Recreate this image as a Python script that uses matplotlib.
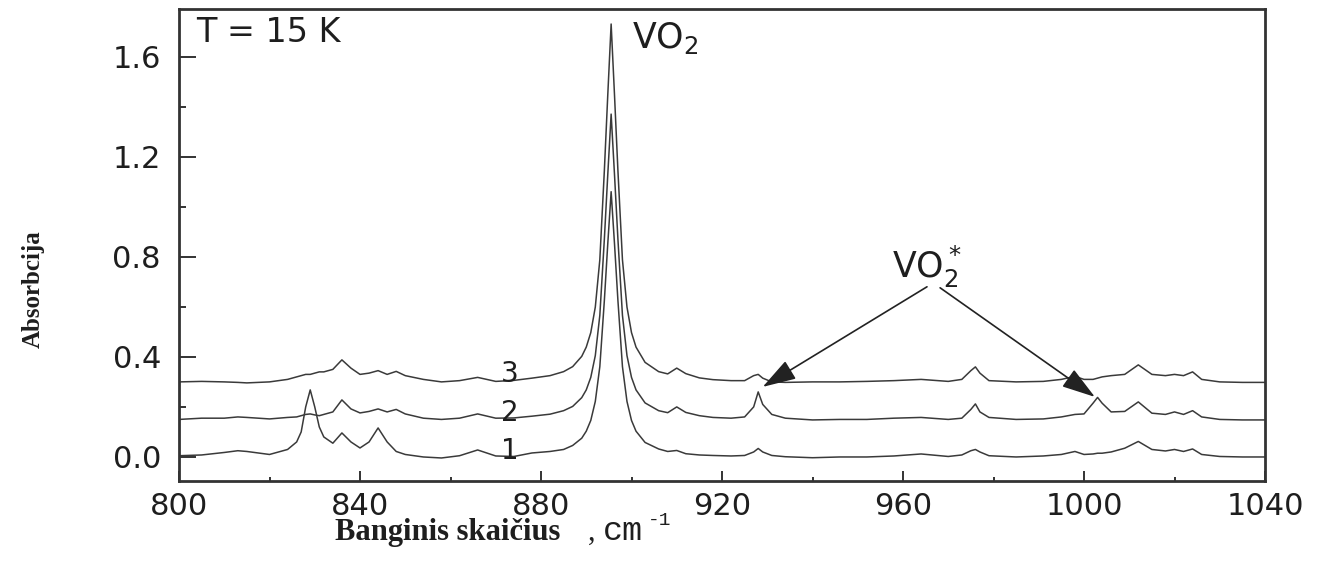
import matplotlib
matplotlib.use("Agg")
import matplotlib.pyplot as plt
from matplotlib.ticker import MultipleLocator, FormatStrFormatter

# ---------------- data ----------------
wavenumber = [
    800, 805, 810, 813, 815, 820, 824, 826, 827, 828,
    829, 830, 831, 832, 834, 836, 838, 840, 842, 844,
    846, 848, 850, 854, 858, 862, 866, 870, 874, 878,
    882, 885, 887, 889, 890, 891, 892, 893, 894, 894.75,
    895.5, 896.25, 897, 898, 899, 900, 901, 903, 906, 908,
    910, 912, 915, 918, 922, 925, 927, 928, 929, 931,
    934, 940, 946, 952, 958, 964, 970, 973, 975, 976,
    977, 979, 985, 991, 995, 998, 1000, 1002, 1003, 1004,
    1006, 1009, 1012, 1015, 1018, 1020, 1022, 1024, 1026, 1030,
    1035, 1040]

spectrum_1 = [
    0.005, 0.008, 0.018, 0.025, 0.022, 0.010, 0.030, 0.060, 0.100, 0.200,
    0.268, 0.200, 0.120, 0.080, 0.055, 0.096, 0.060, 0.036, 0.060, 0.116,
    0.060, 0.022, 0.010, 0.000, -0.004, 0.005, 0.028, 0.004, 0.002, 0.016,
    0.022, 0.030, 0.046, 0.075, 0.103, 0.146, 0.222, 0.361, 0.625, 0.850,
    1.060, 0.850, 0.625, 0.361, 0.222, 0.146, 0.103, 0.058, 0.032, 0.022,
    0.026, 0.013, 0.008, 0.006, 0.004, 0.006, 0.020, 0.034, 0.020, 0.006,
    0.001, -0.003, 0.000, 0.000, 0.004, 0.012, 0.002, 0.008, 0.025, 0.030,
    0.020, 0.005, 0.000, 0.004, 0.010, 0.022, 0.010, 0.012, 0.015, 0.015,
    0.020, 0.035, 0.062, 0.030, 0.024, 0.030, 0.022, 0.032, 0.010, 0.002,
    0.000, 0.000]

spectrum_2 = [
    0.150, 0.155, 0.155, 0.160, 0.158, 0.152, 0.158, 0.160, 0.165, 0.170,
    0.172, 0.168, 0.165, 0.170, 0.180, 0.228, 0.192, 0.176, 0.182, 0.192,
    0.180, 0.190, 0.172, 0.155, 0.150, 0.155, 0.172, 0.155, 0.156, 0.163,
    0.171, 0.185, 0.202, 0.237, 0.268, 0.318, 0.405, 0.566, 0.870, 1.126,
    1.370, 1.126, 0.870, 0.566, 0.405, 0.318, 0.268, 0.216, 0.185, 0.177,
    0.200, 0.178, 0.165, 0.158, 0.155, 0.160, 0.200, 0.260, 0.210, 0.170,
    0.155, 0.148, 0.150, 0.150, 0.155, 0.158, 0.150, 0.155, 0.190, 0.212,
    0.180, 0.158, 0.150, 0.152, 0.160, 0.170, 0.172, 0.215, 0.238, 0.215,
    0.180, 0.182, 0.220, 0.175, 0.170, 0.180, 0.170, 0.185, 0.160, 0.150,
    0.148, 0.148]

spectrum_3 = [
    0.300, 0.302, 0.300, 0.298, 0.296, 0.300, 0.310, 0.320, 0.325, 0.330,
    0.330, 0.335, 0.340, 0.340, 0.350, 0.388, 0.355, 0.330, 0.335, 0.345,
    0.330, 0.342, 0.325, 0.310, 0.300, 0.305, 0.318, 0.302, 0.306, 0.315,
    0.325, 0.341, 0.361, 0.402, 0.439, 0.497, 0.599, 0.788, 1.144, 1.444,
    1.730, 1.444, 1.144, 0.788, 0.599, 0.497, 0.439, 0.378, 0.341, 0.332,
    0.355, 0.333, 0.316, 0.309, 0.305, 0.305, 0.325, 0.330, 0.315, 0.300,
    0.298, 0.300, 0.300, 0.302, 0.305, 0.310, 0.302, 0.310, 0.345, 0.360,
    0.335, 0.305, 0.300, 0.302, 0.310, 0.322, 0.310, 0.310, 0.315, 0.320,
    0.325, 0.330, 0.368, 0.330, 0.325, 0.330, 0.325, 0.340, 0.310, 0.300,
    0.298, 0.298]

spectra = [spectrum_1, spectrum_2, spectrum_3]
curve_labels = ["1", "2", "3"]
curve_label_x = 873
curve_label_y = [0.024, 0.176, 0.332]

x_limits = (800, 1040)
y_limits = (-0.096, 1.79)

# annotation anchors (data coords)
vo2star_text_xy = (957.6, 0.716)
vo2star_arrow_tails = [(965.3, 0.68), (968.2, 0.676)]
vo2star_arrow_heads = [(929.0, 0.28), (1002.4, 0.24)]

# ---------------- figure ----------------
TXT = '#1e1e1e'
LINE = '#3a3a3a'
SANS = 'DejaVu Sans'
fig = plt.figure(figsize=(13.33, 5.71), dpi=100)
ax = fig.add_axes([179 / 1333, 90 / 571, 1086 / 1333, 472 / 571])

for ys in spectra:
    ax.plot(wavenumber, ys, color=LINE, lw=1.1)

ax.set_xlim(*x_limits)
ax.set_ylim(*y_limits)

ax.xaxis.set_major_locator(MultipleLocator(40))
ax.xaxis.set_minor_locator(MultipleLocator(20))
ax.yaxis.set_major_locator(MultipleLocator(0.4))
ax.yaxis.set_minor_locator(MultipleLocator(0.2))
ax.yaxis.set_major_formatter(FormatStrFormatter('%.1f'))

for s in ax.spines.values():
    s.set_linewidth(2.0)
    s.set_color('#333333')

ax.tick_params(which='both', direction='in', top=False, right=False,
               colors='#333333', labelcolor=TXT, width=1.4)
ax.tick_params(axis='x', which='major', length=7, pad=8)
ax.tick_params(axis='x', which='minor', length=3)
ax.tick_params(axis='y', which='major', length=12, pad=13)
ax.tick_params(axis='y', which='minor', length=5)
for lab in ax.get_xticklabels() + ax.get_yticklabels():
    lab.set_fontfamily(SANS)
    lab.set_fontsize(22)

# curve numbers
for lab, yy in zip(curve_labels, curve_label_y):
    ax.text(curve_label_x, yy, lab, fontsize=20, family=SANS,
            color=TXT, ha='center', va='center')

# text annotations
ax.text(803.8, 1.66, "T = 15 K", fontsize=24, family=SANS,
        color=TXT, ha='left', va='baseline')
ax.text(900.1, 1.636, "VO$_2$", fontsize=25, family=SANS,
        color=TXT, ha='left', va='baseline')
ax.text(vo2star_text_xy[0], vo2star_text_xy[1], "VO$_2^*$", fontsize=25,
        family=SANS, color=TXT, ha='left', va='baseline')
for tail, head in zip(vo2star_arrow_tails, vo2star_arrow_heads):
    ax.annotate("", xy=head, xytext=tail,
                arrowprops=dict(arrowstyle='-|>,head_length=0.8,head_width=0.25',
                                color='#222222', lw=1.2,
                                mutation_scale=26, shrinkA=0, shrinkB=0))

# axis labels
fig.text(33 / 1333, (571 - 289) / 571, "Absorbcija", rotation=90,
         family='Liberation Serif', weight='bold', fontsize=18,
         color=TXT, ha='center', va='center')
fig.text(335 / 1333, (571 - 540) / 571, "Banginis skaičius", family='Liberation Serif',
         weight='bold', fontsize=22, color=TXT, ha='left', va='baseline')
fig.text(588 / 1333, (571 - 540) / 571, ",", family='Liberation Serif',
         fontsize=22, color=TXT, ha='left', va='baseline')
fig.text(603 / 1333, (571 - 540) / 571, "cm", family='Liberation Mono',
         fontsize=24, color=TXT, ha='left', va='baseline')
fig.text(648 / 1333, (571 - 525) / 571, "-1", family='Liberation Mono',
         fontsize=14, color=TXT, ha='left', va='baseline')

fig.savefig("out.png", dpi=100, facecolor='white')
